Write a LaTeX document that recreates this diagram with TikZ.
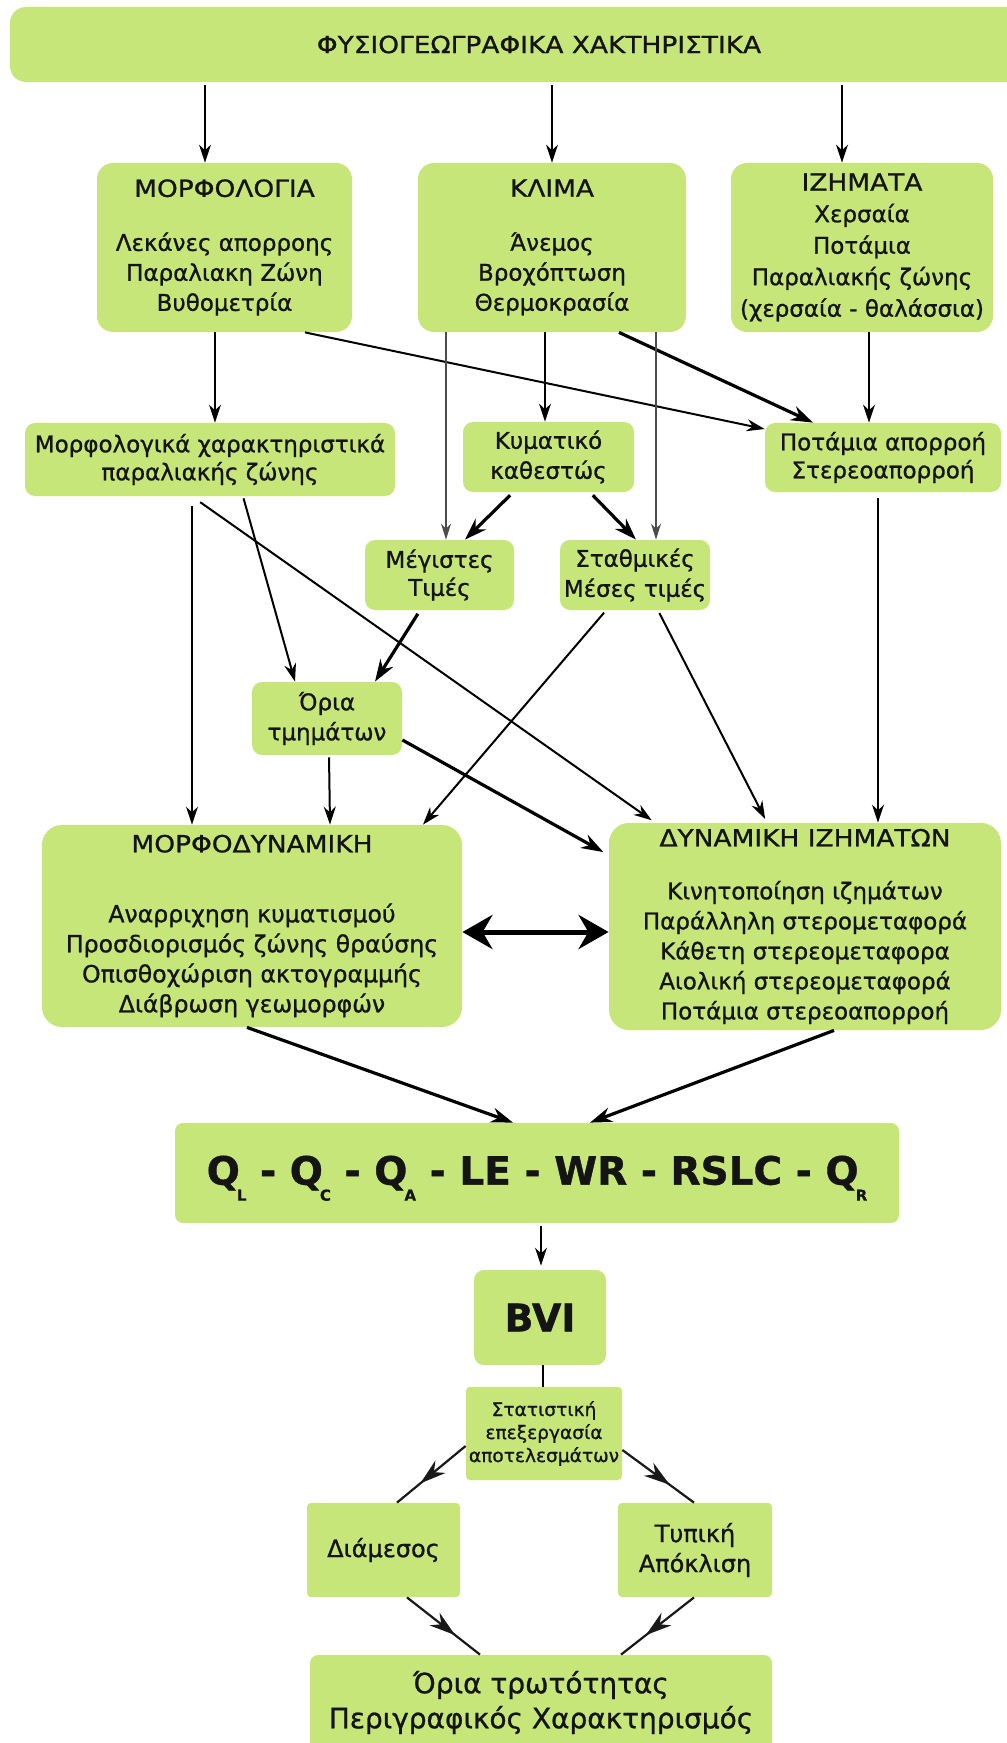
\documentclass[tikz,border=0pt]{standalone}
\usepackage{fontspec}
\setmainfont[RawFeature={embolden=0.9}]{DejaVu Sans}
\newfontfamily\capsf[FakeStretch=1.12,RawFeature={embolden=0.9}]{DejaVu Sans}
\usetikzlibrary{arrows.meta,decorations.markings}
\definecolor{boxg}{RGB}{198,230,122}
\definecolor{txt}{RGB}{20,20,20}
\newcommand\ttl[1]{{\capsf\fontsize{11.8}{15}\selectfont #1}}
\newcommand\sbs[1]{\kern-1.5pt\smash{\raisebox{-8pt}{\fontsize{7.5}{7.5}\selectfont #1}}}
\tikzset{
  box/.style={fill=boxg, text=txt, align=center, inner sep=0pt, rounded corners=#1},
  box/.default=6pt,
  body/.style={font=\fontsize{11.5}{15}\selectfont},
  arr/.style={-{Stealth[length=9pt,width=6pt]}, line width=1pt, draw=black},
  tarr/.style={-{Stealth[length=11pt,width=7.5pt]}, line width=1.6pt, draw=black},
  garr/.style={-{Stealth[length=8pt,width=5pt]}, line width=0.8pt, draw=black!70},
  darr/.style={{Stealth[length=15pt,width=17pt]}-{Stealth[length=15pt,width=17pt]}, line width=2.5pt, draw=black},
  midarr/.style={line width=1.1pt, draw=black!90, postaction={decorate},
    decoration={markings, mark=at position 0.66 with {\arrow{Stealth[length=13pt,width=8pt]}}}},
}
\begin{document}
\begin{tikzpicture}[x=0.5pt,y=-0.5pt]
\useasboundingbox (0,0) rectangle (1006,1743);
\fill[white] (0,0) rectangle (1006,1743);

% boxes
\node[box=8pt, minimum width=529pt, minimum height=37.5pt] (top) at (539,44.5)
  {\ttl{ΦΥΣΙΟΓΕΩΓΡΑΦΙΚΑ ΧΑΚΤΗΡΙΣΤΙΚΑ}};
\node[box=8pt, body, minimum width=127.5pt, minimum height=84.5pt] (morf) at (224.5,247.5)
  {\ttl{ΜΟΡΦΟΛΟΓΙΑ}\\[12pt] Λεκάνες απορροης\\ Παραλιακη Ζώνη\\ Βυθομετρία};
\node[box=8pt, body, minimum width=134pt, minimum height=84.5pt] (klima) at (552,247.5)
  {\ttl{ΚΛΙΜΑ}\\[12pt] Άνεμος\\ Βροχόπτωση\\ Θερμοκρασία};
\node[box=8pt, font=\fontsize{11.5}{15.75}\selectfont, minimum width=131pt, minimum height=84.5pt] (izh) at (862,247.5)
  {\ttl{ΙΖΗΜΑΤΑ}\\ Χερσαία\\ Ποτάμια\\ Παραλιακής ζώνης\\ (χερσαία - θαλάσσια)};
\node[box=5pt, font=\fontsize{11.5}{14}\selectfont, minimum width=185pt, minimum height=36.5pt] (mchar) at (210,459.5)
  {Μορφολογικά χαρακτηριστικά\\ παραλιακής ζώνης};
\node[box=5pt, body, minimum width=85.5pt, minimum height=35pt] (kym) at (548.5,457)
  {Κυματικό\\ καθεστώς};
\node[box=5pt, font=\fontsize{11.5}{14}\selectfont, minimum width=118pt, minimum height=34.5pt] (pot) at (883,457.5)
  {Ποτάμια απορροή\\ Στερεοαπορροή};
\node[box=5pt, font=\fontsize{11.5}{14}\selectfont, minimum width=74.5pt, minimum height=35pt] (meg) at (439.5,575)
  {Μέγιστες\\ Τιμές};
\node[box=5pt, body, minimum width=75pt, minimum height=35pt] (stath) at (635,575)
  {Σταθμικές\\ Μέσες τιμές};
\node[box=5pt, body, minimum width=75pt, minimum height=36.5pt] (oria) at (327,718.5)
  {Όρια\\ τμημάτων};
\node[box=10pt, font=\fontsize{11.8}{15}\selectfont, minimum width=210pt, minimum height=101pt] (mdyn) at (252,926)
  {\ttl{ΜΟΡΦΟΔΥΝΑΜΙΚΗ}\\[20pt] Αναρριχηση κυματισμού\\ Προσδιορισμός ζώνης θραύσης\\ Οπισθοχώριση ακτογραμμής\\ Διάβρωση γεωμορφών};
\node[box=10pt, body, minimum width=196pt, minimum height=103.5pt] (dyn) at (805,926.5)
  {\ttl{ΔΥΝΑΜΙΚΗ ΙΖΗΜΑΤΩΝ}\\[11.5pt] Κινητοποίηση ιζημάτων\\ Παράλληλη στερομεταφορά\\ Κάθετη στερεομεταφορα\\ Αιολική στερεομεταφορά\\ Ποτάμια στερεοαπορροή};
\node[box=4pt, font=\bfseries\fontsize{19.5}{20}\selectfont, minimum width=362pt, minimum height=50pt] (q) at (537,1173)
  {Q\sbs{L} - Q\sbs{C} - Q\sbs{A} - LE - WR - RSLC - Q\sbs{R}};
\node[box=5pt, font=\bfseries\fontsize{19}{19}\selectfont, minimum width=66pt, minimum height=47.5pt] (bvi) at (540,1317.5)
  {BVI};
\node[box=2pt, font=\fontsize{9.3}{11.5}\selectfont, minimum width=78pt, minimum height=46.5pt] (stat) at (544,1433.5)
  {Στατιστική\\ επεξεργασία\\ αποτελεσμάτων};
\node[box=2pt, font=\fontsize{12}{15}\selectfont, minimum width=76.5pt, minimum height=47pt] (diam) at (383.5,1550)
  {Διάμεσος};
\node[box=2pt, font=\fontsize{12}{15}\selectfont, minimum width=77pt, minimum height=47pt] (typ) at (695,1550)
  {Τυπική\\ Απόκλιση};
\node[box=4pt, font=\fontsize{14}{17.5}\selectfont, minimum width=231pt, minimum height=47.5pt] (bottom) at (541,1702.5)
  {Όρια τρωτότητας\\ Περιγραφικός Χαρακτηρισμός};

% connectors
\draw[arr, shorten <=1.5pt] (top.south -| 205,0) -- (morf.north -| 205,0);
\draw[arr, shorten <=1.5pt] (top.south -| 552,0) -- (klima.north -| 552,0);
\draw[arr, shorten <=1.5pt] (top.south -| 842,0) -- (izh.north -| 842,0);
\draw[arr] (morf.south -| 215,0) -- (mchar.north -| 215,0);
\draw[arr] (klima.south -| 545,0) -- (kym.north -| 545,0);
\draw[arr] (izh.south -| 869,0) -- (pot.north -| 869,0);
\draw[arr] (morf.south -| 305,0) -- (pot.west |- 0,429);
\draw[tarr] (klima.south -| 619,0) -- (pot.north -| 813,0);
\draw[garr] (klima.south -| 446,0) -- (meg.north -| 446,0);
\draw[garr] (klima.south -| 656,0) -- (stath.north -| 656,0);
\draw[tarr, shorten <=2pt] (kym.south -| 513,0) -- (meg.north -| 465,0);
\draw[tarr, shorten <=2pt] (kym.south -| 590,0) -- (stath.north -| 636,0);
\draw[arr, shorten <=1pt] (mchar.south -| 243,0) -- (oria.north -| 295,0);
\draw[tarr, shorten <=2pt] (meg.south -| 420,0) -- (oria.north -| 375,0);
\draw[arr, shorten <=5pt] (mchar.south -| 192,0) -- (mdyn.north -| 192,0);
\draw[arr, shorten <=5pt, shorten >=2pt] (mchar.south -| 192,0) -- (dyn.north -| 655,0);
\draw[arr, shorten <=1pt] (oria.south -| 329,0) -- (mdyn.north -| 330,0);
\draw[tarr, shorten >=3pt] (oria.east |- 0,740) -- (dyn.west |- 0,855);
\draw[arr, shorten <=1.5pt] (stath.south -| 606,0) -- (mdyn.north -| 423,0);
\draw[arr, shorten <=1.5pt, shorten >=2pt] (stath.south -| 658,0) -- (dyn.north -| 767,0);
\draw[arr, shorten <=3pt] (pot.south -| 878,0) -- (dyn.north -| 878,0);
\draw[darr] (mdyn.east |- 0,932) -- (dyn.west |- 0,932);
\draw[tarr] (mdyn.south -| 247,0) -- (q.north -| 513,0);
\draw[tarr] (dyn.south -| 834,0) -- (q.north -| 590,0);
\draw[arr, line width=0.8pt, shorten <=1.5pt, shorten >=2pt] (q.south -| 541,0) -- (bvi.north -| 541,0);
\draw[line width=1.2pt] (bvi.south -| 543,0) -- (stat.north -| 543,0);
\draw[midarr] (stat.west |- 0,1446) -- (diam.north -| 397,0);
\draw[midarr] (stat.east |- 0,1450) -- (typ.north -| 694,0);
\draw[midarr] (diam.south -| 407,0) -- (bottom.north -| 480,0);
\draw[midarr] (typ.south -| 694,0) -- (bottom.north -| 621,0);
\end{tikzpicture}
\end{document}
